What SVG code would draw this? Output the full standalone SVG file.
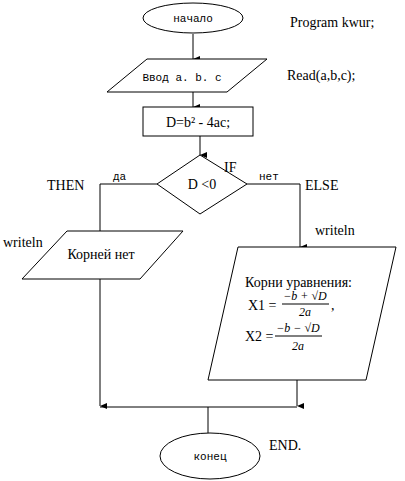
<svg xmlns="http://www.w3.org/2000/svg" width="405" height="481" viewBox="0 0 405 481">
<defs>
<marker id="ah" markerWidth="6" markerHeight="7" refX="3" refY="7" orient="auto-start-reverse" markerUnits="userSpaceOnUse" viewBox="0 0 6 7">
<path d="M0,0 L6,0 L3,7 Z" fill="#000"/>
</marker>
<style>
.s{fill:#fff;stroke:#000;stroke-width:1}
.c{fill:none;stroke:#000;stroke-width:1}
.t{font-family:"Liberation Serif","DejaVu Serif","Times New Roman",serif;font-size:14px;fill:#000}
.m{font-family:"Liberation Mono","DejaVu Sans Mono","Courier New",monospace;font-size:11px;fill:#000}
.i{font-family:"Liberation Serif","DejaVu Serif","Times New Roman",serif;font-size:12px;font-style:italic;fill:#000}
</style>
</defs>
<rect width="405" height="481" fill="#fff"/>
<g id="connectors">
<path class="c" d="M193,34 V59" marker-end="url(#ah)"/>
<path class="c" d="M193,92 V107" marker-end="url(#ah)"/>
<path class="c" d="M200,136 V155" marker-end="url(#ah)"/>
<path class="c" d="M157,184 H100 V231"/>
<path class="c" d="M247,184 H300 V247" marker-end="url(#ah)"/>
<path class="c" d="M100,279 V406" marker-end="url(#ah)"/>
<path class="c" d="M297,380 V406" marker-end="url(#ah)"/>
<path class="c" d="M100,407 H297"/>
<path class="c" d="M208,407 V433"/>
</g>
<g id="start">
<ellipse class="s" cx="193" cy="18" rx="50" ry="15"/>
<text class="m" x="193" y="22" text-anchor="middle">начало</text>
</g>
<g id="input">
<polygon class="s" points="147,59 267,59 227,92 107,92"/>
<text class="m" x="182" y="81" text-anchor="middle">Ввод  a. b. c</text>
</g>
<g id="calc">
<rect class="s" x="143" y="107" width="110" height="29"/>
<text class="t" x="198" y="127" text-anchor="middle">D=b² - 4ac;</text>
</g>
<g id="decision">
<polygon class="s" points="200,155 247,184 200,214 157,184"/>
<text class="t" x="202" y="189" text-anchor="middle">D &lt;0</text>
<text class="t" x="224" y="172">IF</text>
<text class="m" x="113" y="180" font-size="10">да</text>
<text class="m" x="259" y="180" font-size="10">нет</text>
</g>
<g id="no-roots">
<polygon class="s" points="67,231 183,231 140,279 22,279"/>
<text class="t" x="101" y="259" text-anchor="middle">Корней нет</text>
</g>
<g id="roots">
<polygon class="s" points="238,247 396,247 366,380 208,380"/>
<text class="t" x="245" y="287">Корни  уравнения:</text>
<text class="t" x="248" y="310">X1 =</text>
<text class="i" x="305" y="300" text-anchor="middle">−b + √D</text>
<line class="c" x1="282" y1="304" x2="329" y2="304"/>
<text class="i" x="305" y="316" text-anchor="middle">2a</text>
<text class="t" x="331" y="310">,</text>
<text class="t" x="245" y="341">X2 =</text>
<text class="i" x="298" y="332" text-anchor="middle">−b − √D</text>
<line class="c" x1="275" y1="336" x2="322" y2="336"/>
<text class="i" x="298" y="350" text-anchor="middle">2a</text>
</g>
<g id="end">
<ellipse class="s" cx="210" cy="456" rx="50" ry="23"/>
<text class="m" x="210" y="460" text-anchor="middle">конец</text>
</g>
<g id="labels">
<text class="t" x="290" y="27">Program kwur;</text>
<text class="t" x="287" y="80">Read(a,b,c);</text>
<text class="t" x="47" y="190">THEN</text>
<text class="t" x="305" y="190">ELSE</text>
<text class="t" x="315" y="235">writeln</text>
<text class="t" x="3" y="247">writeln</text>
<text class="t" x="269" y="450">END.</text>
</g>
</svg>
